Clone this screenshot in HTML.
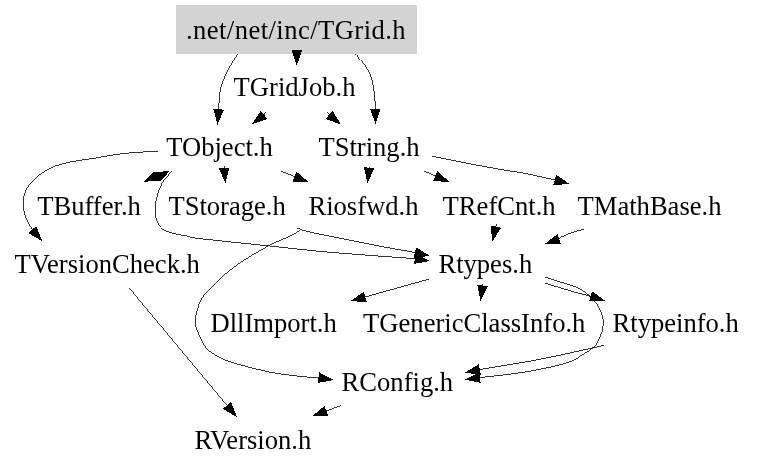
<!DOCTYPE html>
<html><head><meta charset="utf-8"><style>
html,body{margin:0;padding:0;background:#fff;}
svg{display:block;will-change:transform;}
text{font-family:"Liberation Serif",serif;font-size:26.6px;fill:#000;}
.e{fill:none;stroke:#000;stroke-width:0.8;shape-rendering:crispEdges;}
.a{fill:#000;stroke:#000;stroke-width:1;shape-rendering:crispEdges;}
</style></head><body>
<svg width="757" height="469" viewBox="0 0 757 469">
<rect x="0" y="0" width="757" height="469" fill="#fff"/>
<rect x="176" y="5" width="241" height="49" fill="#d3d3d3"/>
<text x="185.9" y="39.0" textLength="219.7" lengthAdjust="spacing">.net/net/inc/TGrid.h</text>
<text x="233.6" y="96.4">TGridJob.h</text>
<text x="166.2" y="156.1">TObject.h</text>
<text x="318.4" y="156.1">TString.h</text>
<text x="37.2" y="214.9">TBuffer.h</text>
<text x="168.4" y="214.9">TStorage.h</text>
<text x="308.4" y="214.9">Riosfwd.h</text>
<text x="442.6" y="214.9">TRefCnt.h</text>
<text x="577.5" y="214.9">TMathBase.h</text>
<text x="14.5" y="272.7">TVersionCheck.h</text>
<text x="438.4" y="272.7">Rtypes.h</text>
<text x="210.5" y="331.7">DllImport.h</text>
<text x="363.1" y="331.7">TGenericClassInfo.h</text>
<text x="612.5" y="331.7">Rtypeinfo.h</text>
<text x="341.6" y="390.5">RConfig.h</text>
<text x="194.5" y="448.7">RVersion.h</text>
<path d="M238.0,54.0 C236.4,56.5 231.3,63.5 228.4,69.2 C225.5,74.9 222.3,81.6 220.7,88.4 C219.1,95.2 218.9,106.2 218.6,109.7" class="e"/>
<path d="M217.6,123.2 L214.0,109.4 L223.2,110.1 Z" class="a"/>
<path d="M296.8,51.5 C296.8,51.4 296.8,50.9 296.8,50.8" class="e"/>
<path d="M296.7,64.3 L292.2,50.8 L301.4,50.8 Z" class="a"/>
<path d="M355.2,53.5 C356.6,55.1 360.8,59.4 363.4,63.1 C366.0,66.8 368.8,71.0 370.6,75.8 C372.4,80.6 373.4,86.5 374.2,92.1 C375.0,97.7 375.2,106.4 375.4,109.2" class="e"/>
<path d="M375.5,122.7 L370.8,109.2 L380.0,109.2 Z" class="a"/>
<path d="M265.7,112.4 C265.4,112.9 264.0,114.7 263.7,115.2" class="e"/>
<path d="M253.0,123.4 L260.8,111.5 L266.5,118.8 Z" class="a"/>
<path d="M327.0,111.6 C327.4,112.2 329.0,114.5 329.5,115.1" class="e"/>
<path d="M339.9,123.6 L326.6,118.7 L332.3,111.5 Z" class="a"/>
<path d="M157.8,151.3 C154.0,151.5 141.9,152.0 134.9,152.5 C127.9,153.0 122.6,153.6 115.9,154.5 C109.2,155.4 102.8,156.8 95.0,158.1 C87.2,159.4 76.7,160.6 69.4,162.2 C62.1,163.8 57.0,165.0 51.3,167.7 C45.6,170.4 39.2,174.8 35.0,178.6 C30.8,182.4 27.9,186.3 25.9,190.4 C23.9,194.5 23.2,198.5 23.2,203.0 C23.2,207.5 24.3,213.1 25.9,217.6 C27.5,222.1 31.4,227.9 32.5,230.0" class="e"/>
<path d="M41.4,240.1 L29.1,233.0 L36.0,227.0 Z" class="a"/>
<path d="M224.0,165.5 C224.0,166.0 224.2,167.9 224.2,168.3" class="e"/>
<path d="M225.3,181.8 L219.6,168.7 L228.8,168.0 Z" class="a"/>
<path d="M280.5,171.0 C282.9,172.0 292.6,175.8 295.0,176.8" class="e"/>
<path d="M307.5,181.8 L293.3,181.1 L296.7,172.5 Z" class="a"/>
<path d="M171.9,171.0 C171.2,171.8 168.9,174.5 167.5,176.1 C166.1,177.7 164.8,178.8 163.6,180.6 C162.4,182.4 161.4,184.5 160.4,186.8 C159.4,189.1 158.3,192.1 157.6,194.5 C156.9,196.9 156.4,198.2 156.0,201.0 C155.6,203.8 155.1,208.1 155.2,211.4 C155.3,214.7 155.6,218.1 156.8,221.0 C158.0,223.9 159.9,227.0 162.4,229.0 C164.9,231.0 167.7,231.8 172.0,233.0 C176.3,234.2 183.3,235.3 188.0,236.2 C192.7,237.1 186.5,237.0 200.0,238.6 C213.5,240.2 248.9,243.8 268.9,245.9 C288.9,248.0 302.7,249.8 320.0,251.4 C337.3,253.0 356.9,254.4 372.8,255.6 C388.7,256.8 408.2,258.2 415.3,258.7" class="e"/>
<path d="M428.6,260.8 L414.6,263.3 L416.0,254.2 Z" class="a"/>
<path d="M369.3,167.0 C369.3,167.2 369.2,168.0 369.2,168.2" class="e"/>
<path d="M367.6,181.6 L364.6,167.7 L373.7,168.7 Z" class="a"/>
<path d="M424.2,171.1 C426.1,171.9 433.8,175.3 435.8,176.2" class="e"/>
<path d="M448.2,181.6 L433.9,180.4 L437.6,171.9 Z" class="a"/>
<path d="M432.2,156.3 C438.5,157.6 458.7,161.6 470.0,163.8 C481.3,166.0 490.6,167.7 500.0,169.3 C509.4,171.0 517.2,171.9 526.4,173.7 C535.6,175.5 550.4,179.0 555.2,180.0" class="e"/>
<path d="M568.2,183.6 L554.0,184.5 L556.4,175.6 Z" class="a"/>
<path d="M300.5,229.6 C303.8,230.4 307.9,231.7 320.0,234.2 C332.1,236.7 356.9,241.7 372.8,244.8 C388.7,247.9 408.4,251.3 415.5,252.6" class="e"/>
<path d="M428.6,255.7 L414.4,257.1 L416.5,248.1 Z" class="a"/>
<path d="M300.0,229.8 C298.7,230.7 297.7,232.3 292.4,235.0 C287.1,237.7 277.9,240.7 268.1,246.1 C258.3,251.5 244.1,259.4 233.6,267.4 C223.1,275.3 211.4,286.7 205.3,293.8 C199.2,300.9 198.8,305.6 197.2,310.0 C195.6,314.4 195.7,317.2 195.5,320.0 C195.3,322.8 194.5,322.8 195.9,326.9 C197.3,331.0 201.2,340.4 203.9,344.7 C206.6,349.0 207.5,349.8 211.8,352.6 C216.1,355.4 220.0,358.4 229.6,361.6 C239.2,364.8 257.6,369.6 269.3,372.0 C281.0,374.4 291.7,375.3 300.0,376.3 C308.3,377.3 315.9,377.5 319.1,377.8" class="e"/>
<path d="M332.4,379.8 L318.4,382.3 L319.8,373.2 Z" class="a"/>
<path d="M496.5,223.5 C496.4,224.1 495.8,226.5 495.7,227.0" class="e"/>
<path d="M492.7,240.2 L491.2,226.0 L500.2,228.1 Z" class="a"/>
<path d="M584.3,229.3 C582.3,229.8 576.0,231.2 572.4,232.4 C568.8,233.6 564.8,235.1 562.5,236.2 C560.2,237.3 559.4,238.6 558.8,239.1" class="e"/>
<path d="M546.1,243.6 L557.3,234.8 L560.3,243.5 Z" class="a"/>
<path d="M129.0,287.7 C145.4,307.4 211.0,386.1 227.4,405.8" class="e"/>
<path d="M236.0,416.1 L223.8,408.7 L230.9,402.8 Z" class="a"/>
<path d="M428.5,279.2 C417.9,282.2 375.4,294.1 364.8,297.1" class="e"/>
<path d="M351.8,300.7 L363.5,292.7 L366.0,301.5 Z" class="a"/>
<path d="M482.8,284.4 C482.8,284.7 482.6,285.9 482.5,286.1" class="e"/>
<path d="M480.6,299.5 L478.0,285.5 L487.1,286.8 Z" class="a"/>
<path d="M545.3,277.3 C548.0,278.1 556.0,280.6 561.3,282.3 C566.6,284.0 572.3,285.2 577.3,287.6 C582.3,290.0 588.7,295.0 591.0,296.5" class="e"/>
<path d="M603.9,300.4 L589.7,300.9 L592.3,292.1 Z" class="a"/>
<path d="M545.3,283.3 C548.0,284.1 556.0,286.5 561.3,288.1 C566.6,289.7 572.7,291.6 577.3,292.9 C581.9,294.2 586.1,294.8 589.0,296.1 C591.9,297.4 592.5,298.6 594.4,300.9 C596.2,303.2 598.6,306.2 600.1,310.0 C601.6,313.8 603.6,318.4 603.4,323.4 C603.2,328.4 600.5,335.8 598.7,339.9 C596.9,344.0 595.5,345.5 592.7,348.0 C590.0,350.5 586.2,352.4 582.2,354.8 C578.2,357.2 577.5,359.5 568.8,362.2 C560.1,364.9 544.9,368.6 530.0,371.2 C515.1,373.8 487.9,376.7 479.5,377.7" class="e"/>
<path d="M466.1,379.5 L478.9,373.2 L480.1,382.3 Z" class="a"/>
<path d="M603.9,345.4 C593.2,347.7 560.8,355.3 540.0,359.3 C519.2,363.3 489.4,367.9 479.3,369.6" class="e"/>
<path d="M466.1,372.5 L478.3,365.1 L480.3,374.1 Z" class="a"/>
<path d="M341.0,405.5 C338.5,406.4 328.4,410.2 325.9,411.1" class="e"/>
<path d="M313.3,415.8 L324.3,406.8 L327.5,415.4 Z" class="a"/>
<path d="M297,228.4 L300.5,229.2" class="e"/>
<path d="M153.2,172.6 L168.5,171.7 L160.2,180.4 L144.9,181.2 Z" class="a"/>
</svg>
</body></html>
